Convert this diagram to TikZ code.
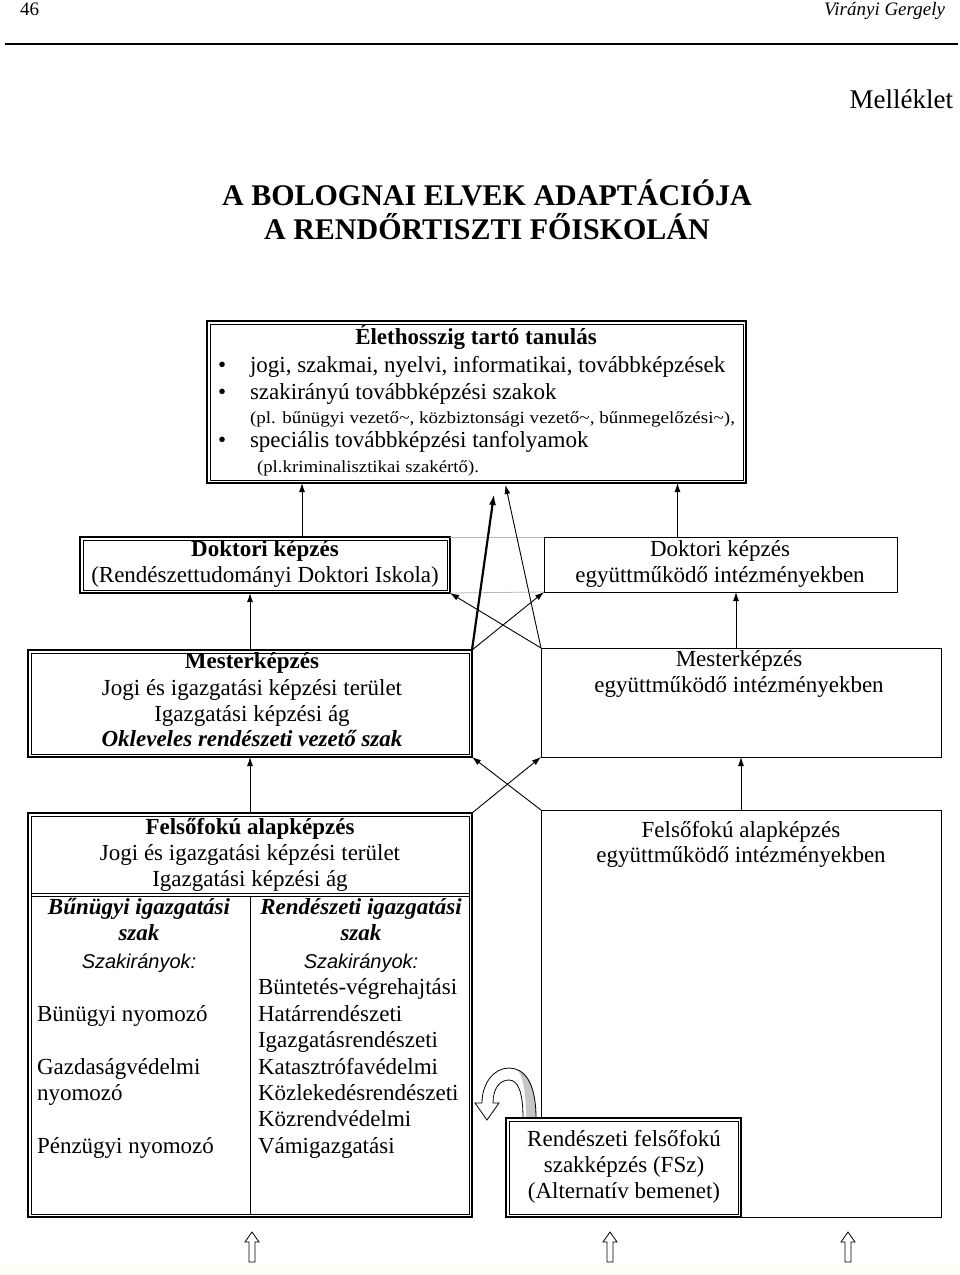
\documentclass[tikz,border=0pt]{standalone}
\usepackage{fontspec}
\usepackage{graphicx}
\setmainfont{Liberation Serif}
\newfontfamily\sansfnt{Liberation Sans}
\usetikzlibrary{arrows.meta,calc}
\newcommand\fsz[1]{\fontsize{#1}{#1}\selectfont}
\newcommand\innerframe[1]{\draw[line width=0.8pt] ($(#1.north west)+(3,3)$) rectangle ($(#1.south east)+(-3,-3)$);}
\begin{document}
\begin{tikzpicture}[x=1pt,y=-1pt,
  sbox/.style={draw, line width=1pt, fill=white, inner sep=0pt, outer sep=0pt, anchor=north west},
  dbox/.style={draw, line width=1.4pt, fill=white, inner sep=0pt, outer sep=0pt, anchor=north west},
  txt/.style={inner sep=0pt, outer sep=0pt, text height=15pt, text depth=5pt, font=\fsz{23}},
  arr/.style={-{Latex[length=9pt,width=6pt]}, line width=0.9pt},
  uparr/.pic={\draw[line width=0.8pt, fill=white] (-3,15) -- (-3,-5) -- (-7,-5) -- (0,-15) -- (7,-5) -- (3,-5) -- (3,15) -- cycle;}
]
\useasboundingbox (0,0) rectangle (960,1275);
\fill[white] (0,0) rectangle (960,1275);
\fill[yellow!4] (0,1265) rectangle (960,1275);

% header
\node[txt, font=\fsz{19}, anchor=west] (pnum) at (20,10) {46};
\node[txt, font=\fsz{19}\itshape, anchor=east] (auth) at (945,10) {Virányi Gergely};
\coordinate (ruleL) at (5,44);
\coordinate (ruleR) at (958,44);
\draw[line width=1.2pt] (ruleL) -- (ruleR);
\node[txt, font=\fsz{27}, anchor=east] (mell) at (953,103) {Melléklet};
\node[txt, font=\fsz{30}\bfseries] (title1) at (487,200) {A BOLOGNAI ELVEK ADAPTÁCIÓJA};
\node[txt, font=\fsz{30}\bfseries] (title2) at (487,234) {A RENDŐRTISZTI FŐISKOLÁN};

% boxes
\node[dbox, minimum width=539pt, minimum height=162pt] (life) at (207,321) {};
\innerframe{life}
\node[dbox, minimum width=370pt, minimum height=56pt] (doktL) at (80,537) {};
\innerframe{doktL}
\node[sbox, minimum width=353pt, minimum height=55pt] (doktR) at (544,537) {};
\node[dbox, minimum width=444pt, minimum height=107pt] (mesterL) at (28,650) {};
\innerframe{mesterL}
\node[sbox, minimum width=400pt, minimum height=109pt] (mesterR) at (541,648) {};
\node[dbox, minimum width=444pt, minimum height=404pt] (felsoL) at (28,813) {};
\innerframe{felsoL}
\node[sbox, minimum width=400pt, minimum height=407pt] (felsoR) at (541,810) {};

\draw[gray!55, line width=0.8pt] (doktL.north east) -- (doktR.north west);
\draw[gray!55, line width=0.8pt] (doktL.south east) -- (doktR.south west);

% inner lines of felsoL
\draw[line width=0.9pt] ($(felsoL.north west)+(3,80)$) -- ($(felsoL.north east)+(-3,80)$);
\draw[line width=0.9pt] ($(felsoL.north west)+(3,83)$) -- ($(felsoL.north east)+(-3,83)$);
\draw[line width=0.9pt] ($(felsoL.north)+(0,83)$) -- ($(felsoL.south)+(0,-3)$);

% life text
\node[txt, font=\fsz{23}\bfseries] (lifeT) at (476,339) {Élethosszig tartó tanulás};
\node[txt, anchor=west] (b1) at (218,367) {•};
\node[txt, anchor=west] (l1) at (250,367) {jogi, szakmai, nyelvi, informatikai, továbbképzések};
\node[txt, anchor=west] (b2) at (218,394) {•};
\node[txt, anchor=west] (l2) at (250,394) {szakirányú továbbképzési szakok};
\node[txt, anchor=west, font=\fsz{17}] (l3) at (250,418) {\resizebox{485pt}{\height}{(pl. bűnügyi vezető\textasciitilde, közbiztonsági vezető\textasciitilde, bűnmegelőzési\textasciitilde),}};
\node[txt, anchor=west] (b3) at (218,442) {•};
\node[txt, anchor=west] (l4) at (250,442) {speciális továbbképzési tanfolyamok};
\node[txt, anchor=west, font=\fsz{17}] (l5) at (257,467) {\resizebox{222pt}{\height}{(pl.kriminalisztikai szakértő).}};

% doktori
\node[txt, font=\fsz{23}\bfseries] (dLt) at (265,551) {Doktori képzés};
\node[txt] (dL2) at (265,577) {(Rendészettudományi Doktori Iskola)};
\node[txt] (dRt) at (720,551) {Doktori képzés};
\node[txt] (dR2) at (720,577) {együttműködő intézményekben};

% mester
\node[txt, font=\fsz{23}\bfseries] (mLt) at (252,663) {Mesterképzés};
\node[txt] (mL2) at (252,690) {Jogi és igazgatási képzési terület};
\node[txt] (mL3) at (252,716) {Igazgatási képzési ág};
\node[txt, font=\fsz{23}\bfseries\itshape] (mL4) at (252,741) {Okleveles rendészeti vezető szak};
\node[txt] (mRt) at (739,661) {Mesterképzés};
\node[txt] (mR2) at (739,687) {együttműködő intézményekben};

% felsofoku
\node[txt, font=\fsz{23}\bfseries] (fLt) at (250,829) {Felsőfokú alapképzés};
\node[txt] (fL2) at (250,855) {Jogi és igazgatási képzési terület};
\node[txt] (fL3) at (250,881) {Igazgatási képzési ág};
\node[txt, font=\fsz{23}\bfseries\itshape] (c1a) at (139,909) {Bűnügyi igazgatási};
\node[txt, font=\fsz{23}\bfseries\itshape] (c1b) at (139,935) {szak};
\node[txt, font=\fsz{20}\sansfnt\itshape] (c1c) at (139,963) {Szakirányok:};
\node[txt, anchor=west] (c1d) at (37,1016) {Bünügyi nyomozó};
\node[txt, anchor=west] (c1e) at (37,1069) {Gazdaságvédelmi};
\node[txt, anchor=west] (c1f) at (37,1095) {nyomozó};
\node[txt, anchor=west] (c1g) at (37,1148) {Pénzügyi nyomozó};
\node[txt, font=\fsz{23}\bfseries\itshape] (c2a) at (361,909) {Rendészeti igazgatási};
\node[txt, font=\fsz{23}\bfseries\itshape] (c2b) at (361,935) {szak};
\node[txt, font=\fsz{20}\sansfnt\itshape] (c2c) at (361,963) {Szakirányok:};
\node[txt, anchor=west] (c2d) at (258,989) {Büntetés-végrehajtási};
\node[txt, anchor=west] (c2e) at (258,1016) {Határrendészeti};
\node[txt, anchor=west] (c2f) at (258,1042) {Igazgatásrendészeti};
\node[txt, anchor=west] (c2g) at (258,1069) {Katasztrófavédelmi};
\node[txt, anchor=west] (c2h) at (258,1095) {Közlekedésrendészeti};
\node[txt, anchor=west] (c2i) at (258,1121) {Közrendvédelmi};
\node[txt, anchor=west] (c2j) at (258,1148) {Vámigazgatási};
\node[txt] (fRt) at (741,832) {Felsőfokú alapképzés};
\node[txt] (fR2) at (741,857) {együttműködő intézményekben};

% curved block arrow
\fill[white] (536,1118) .. controls (536,1082) and (524,1068) .. (509,1068) .. controls (494,1068) and (482,1083) .. (482,1103)
  -- (475,1103) -- (487,1120) -- (499,1103) -- (493,1103)
  .. controls (493,1088) and (500,1080) .. (509,1080) .. controls (518,1080) and (523,1092) .. (523,1118) -- cycle;
\fill[gray!45] (536,1118) .. controls (536,1090) and (530,1074) .. (518,1070) .. controls (524,1080) and (526,1095) .. (526,1118) -- cycle;
\draw[line width=0.8pt] (536,1118) .. controls (536,1082) and (524,1068) .. (509,1068) .. controls (494,1068) and (482,1083) .. (482,1103)
  -- (475,1103) -- (487,1120) -- (499,1103) -- (493,1103)
  .. controls (493,1088) and (500,1080) .. (509,1080) .. controls (518,1080) and (523,1092) .. (523,1118);

% FSz box
\node[dbox, minimum width=235pt, minimum height=99pt] (fsz) at (506,1118) {};
\innerframe{fsz}
\draw[line width=2.6pt] ([xshift=39pt]fsz.south west) -- (fsz.south east);
\node[txt] (fs1) at (624,1141) {Rendészeti felsőfokú};
\node[txt] (fs2) at (624,1167) {szakképzés (FSz)};
\node[txt] (fs3) at (624,1193) {(Alternatív bemenet)};

% arrows
\draw[arr] ([xshift=37pt]doktL.north) -- ([xshift=37pt]doktL.north |- life.south);
\draw[arr] ([xshift=-43pt]doktR.north) -- ([xshift=-43pt]doktR.north |- life.south);
\draw[arr] (mesterL.north) -- (mesterL.north |- doktL.south);
\draw[arr] ([xshift=-5pt]mesterR.north) -- ([xshift=-5pt]mesterR.north |- doktR.south);
\draw[arr] (mesterL.north east) -- (doktR.south west);
\draw[arr] (mesterR.north west) -- (doktL.south east);
\draw[-{Latex[length=11pt,width=7pt]}, line width=2.2pt] (mesterL.north east) -- ($(life.south)+(17.5,11)$);
\draw[arr] (mesterR.north west) -- ($(life.south)+(29,2)$);
\draw[arr] (felsoL.north) -- (felsoL.north |- mesterL.south);
\draw[arr] (felsoR.north) -- (felsoR.north |- mesterR.south);
\draw[arr] (felsoL.north east) -- (mesterR.south west);
\draw[arr] (felsoR.north west) -- (mesterL.south east);

% bottom hollow arrows
\pic (ua1) at (252,1247) {uparr};
\pic (ua2) at (610,1247) {uparr};
\pic (ua3) at (848,1247) {uparr};
\end{tikzpicture}
\end{document}
